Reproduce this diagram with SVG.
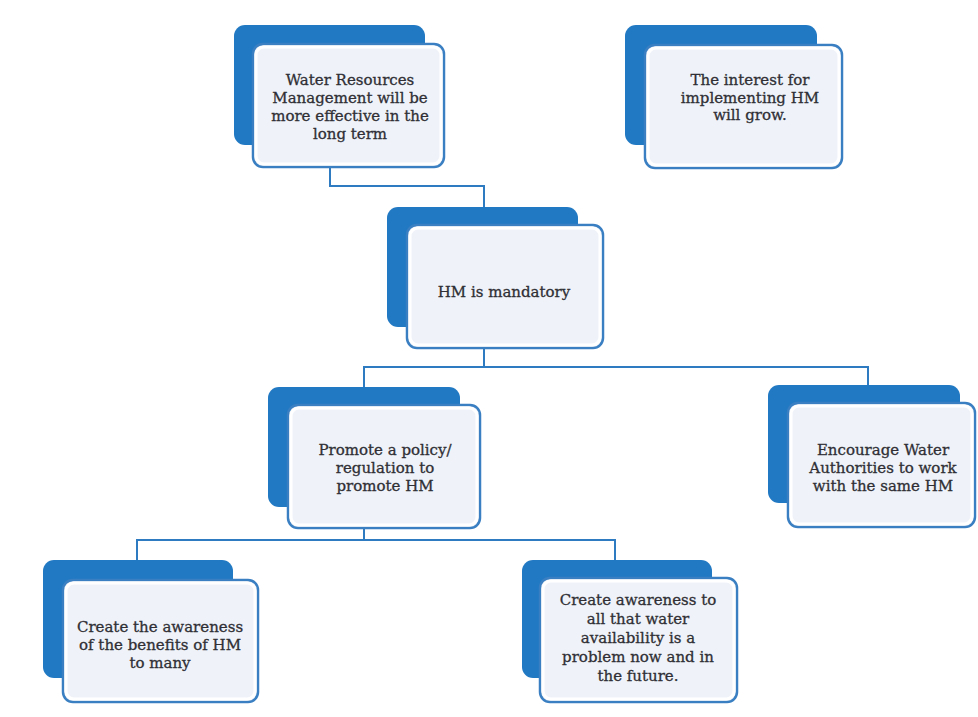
<svg xmlns="http://www.w3.org/2000/svg" width="978" height="717" viewBox="0 0 978 717">
  <style>
    .back { fill: #2179c3; }
    .front { fill: #eff3f9; stroke: #3a7fc2; stroke-width: 2.5; }
    .inner { fill: none; stroke: #ffffff; stroke-width: 3; }
    .link { fill: none; stroke: #2f7bc1; stroke-width: 2; }
    text { font-family: "DejaVu Serif", "Liberation Serif", serif; font-size: 15px; fill: #2f2f35; stroke: #2f2f35; stroke-width: 0.3; text-anchor: middle; }
  </style>
  <rect width="978" height="717" fill="#ffffff"/>

  <!-- connectors -->
  <g id="connectors">
    <polyline class="link" points="330,167 330,186 484,186 484,225"/>
    <polyline class="link" points="484,348 484,367"/>
    <polyline class="link" points="364,387 364,367 868,367 868,385"/>
    <polyline class="link" points="364,528 364,540"/>
    <polyline class="link" points="137,560 137,540 615,540 615,560"/>
  </g>

  <!-- Water Resources Management -->
  <g id="node-wrm">
    <rect class="back" x="234" y="25" width="191" height="120" rx="11"/>
    <rect class="front" x="253" y="44" width="191" height="123" rx="10"/>
    <rect class="inner" x="256" y="47" width="185" height="117" rx="8"/>
    <text x="350" y="85">Water Resources</text>
    <text x="350" y="103">Management will be</text>
    <text x="350" y="121">more effective in the</text>
    <text x="350" y="139">long term</text>
  </g>

  <!-- The interest for implementing HM -->
  <g id="node-interest">
    <rect class="back" x="625" y="25" width="192" height="120" rx="11"/>
    <rect class="front" x="645" y="45" width="197" height="123" rx="10"/>
    <rect class="inner" x="648" y="48" width="191" height="117" rx="8"/>
    <text x="750" y="85">The interest for</text>
    <text x="750" y="102.5">implementing HM</text>
    <text x="750" y="120">will grow.</text>
  </g>

  <!-- HM is mandatory -->
  <g id="node-mandatory">
    <rect class="back" x="387" y="207" width="191" height="120" rx="11"/>
    <rect class="front" x="407" y="225" width="196" height="123" rx="10"/>
    <rect class="inner" x="410" y="228" width="190" height="117" rx="8"/>
    <text x="504" y="297">HM is mandatory</text>
  </g>

  <!-- Promote a policy/regulation -->
  <g id="node-policy">
    <rect class="back" x="268" y="387" width="192" height="120" rx="11"/>
    <rect class="front" x="288" y="405" width="192" height="123" rx="10"/>
    <rect class="inner" x="291" y="408" width="186" height="117" rx="8"/>
    <text x="385" y="455">Promote a policy/</text>
    <text x="385" y="473">regulation to</text>
    <text x="385" y="491">promote HM</text>
  </g>

  <!-- Encourage Water Authorities -->
  <g id="node-encourage">
    <rect class="back" x="768" y="385" width="192" height="118" rx="11"/>
    <rect class="front" x="788" y="403" width="187" height="124" rx="10"/>
    <rect class="inner" x="791" y="406" width="181" height="118" rx="8"/>
    <text x="883" y="455">Encourage Water</text>
    <text x="883" y="473">Authorities to work</text>
    <text x="883" y="491">with the same HM</text>
  </g>

  <!-- Create the awareness of the benefits -->
  <g id="node-benefits">
    <rect class="back" x="43" y="560" width="190" height="118" rx="11"/>
    <rect class="front" x="63" y="580" width="195" height="122" rx="10"/>
    <rect class="inner" x="66" y="583" width="189" height="116" rx="8"/>
    <text x="160" y="632">Create the awareness</text>
    <text x="160" y="650">of the benefits of HM</text>
    <text x="160" y="668">to many</text>
  </g>

  <!-- Create awareness water availability -->
  <g id="node-availability">
    <rect class="back" x="522" y="560" width="190" height="118" rx="11"/>
    <rect class="front" x="540" y="578" width="197" height="124" rx="10"/>
    <rect class="inner" x="543" y="581" width="191" height="118" rx="8"/>
    <text x="638" y="605">Create awareness to</text>
    <text x="638" y="624">all that water</text>
    <text x="638" y="643">availability is a</text>
    <text x="638" y="662">problem now and in</text>
    <text x="638" y="681">the future.</text>
  </g>
</svg>
